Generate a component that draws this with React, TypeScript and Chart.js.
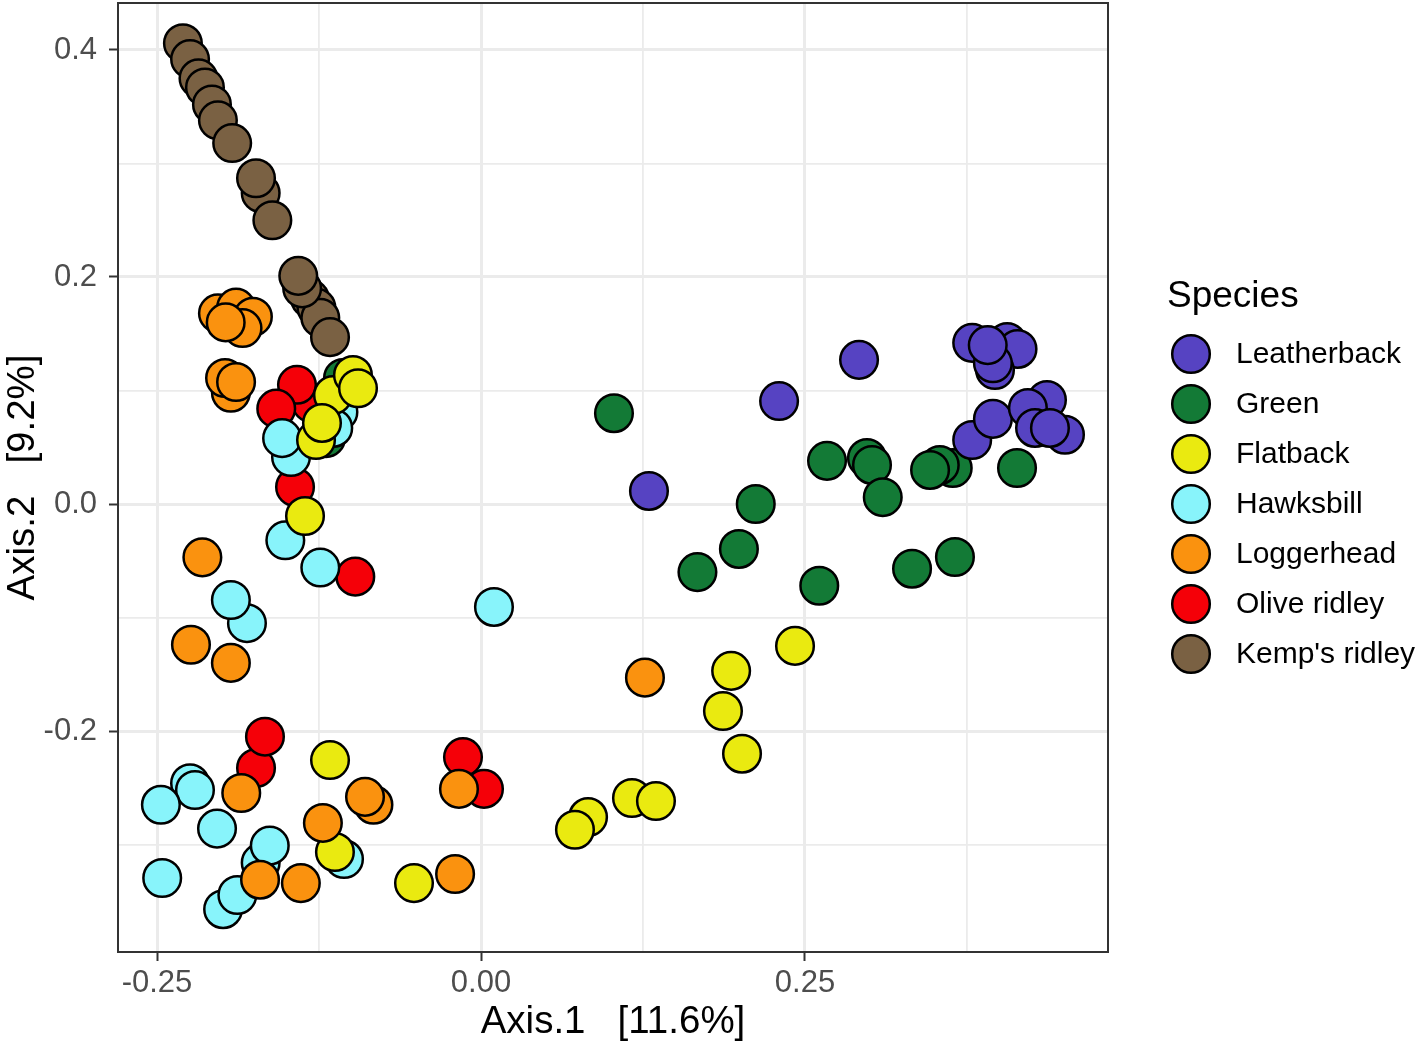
import { useEffect, useRef } from 'react';
import { Chart, registerables } from 'chart.js';

Chart.register(...registerables);

const FONT = '"Liberation Sans", Arial, Helvetica, sans-serif';

// Legend order and colours
const speciesNames = ['Leatherback', 'Green', 'Flatback', 'Hawksbill', 'Loggerhead', 'Olive ridley', "Kemp's ridley"];
const speciesColors = ['#5643C2', '#137A36', '#EAEA10', '#88F4FB', '#FA920F', '#F50008', '#7A6143'];

// PCoA coordinates [Axis.1, Axis.2]
const leatherback: [number, number][] = [
  [0.1296, 0.0115], [0.230, 0.0907], [0.2917, 0.127], [0.379, 0.142], [0.406, 0.1427],
  [0.414, 0.1366], [0.3966, 0.118], [0.395, 0.124], [0.391, 0.140], [0.379, 0.0564],
  [0.395, 0.075], [0.4506, 0.061], [0.4367, 0.0916], [0.422, 0.0846], [0.4275, 0.067], [0.439, 0.067],
];
const green: [number, number][] = [
  [-0.1196, 0.058], [-0.1065, 0.111], [0.1026, 0.080], [0.212, 0.000], [0.199, -0.0396],
  [0.167, -0.060], [0.267, 0.038], [0.261, -0.072], [0.2978, 0.0405], [0.3017, 0.0344],
  [0.310, 0.006], [0.364, 0.0317], [0.354, 0.0344], [0.3465, 0.030], [0.4136, 0.0317],
  [0.3326, -0.057], [0.3657, -0.0467],
];
const flatback: [number, number][] = [
  [-0.1273, 0.0564], [-0.1142, 0.096], [-0.1227, 0.0714], [-0.0988, 0.1137], [-0.0949, 0.102],
  [-0.1358, -0.0106], [-0.1165, -0.2256], [-0.1127, -0.3066], [-0.0517, -0.334], [0.0826, -0.2758],
  [0.0725, -0.287], [0.1165, -0.259], [0.135, -0.2617], [0.193, -0.147], [0.1867, -0.1824],
  [0.2014, -0.220], [0.2423, -0.125],
];
const hawksbill: [number, number][] = [
  [-0.110, 0.081], [-0.114, 0.067], [-0.1466, 0.0414], [-0.1535, 0.058], [-0.151, -0.032],
  [-0.124, -0.056], [-0.1806, -0.105], [-0.193, -0.0846], [0.010, -0.0907], [-0.2245, -0.246],
  [-0.2207, -0.252], [-0.247, -0.265], [-0.2037, -0.286], [-0.170, -0.316], [-0.163, -0.301],
  [-0.1057, -0.3128], [-0.246, -0.3295], [-0.199, -0.357], [-0.188, -0.3445],
];
const loggerhead: [number, number][] = [
  [-0.203, 0.168], [-0.189, 0.173], [-0.176, 0.165], [-0.184, 0.155], [-0.197, 0.160],
  [-0.193, 0.098], [-0.1975, 0.111], [-0.189, 0.1075], [-0.215, -0.047], [-0.2238, -0.124],
  [-0.193, -0.140], [-0.185, -0.2546], [-0.083, -0.265], [-0.0895, -0.258], [-0.122, -0.281],
  [-0.1705, -0.331], [-0.139, -0.334], [-0.017, -0.251], [-0.020, -0.326], [0.1265, -0.153],
];
const oliveRidley: [number, number][] = [
  [-0.131, 0.089], [-0.142, 0.105], [-0.158, 0.084], [-0.1435, 0.015], [-0.097, -0.064],
  [-0.1736, -0.2326], [-0.1667, -0.205], [0.0023, -0.251], [-0.0139, -0.223],
];
const kempsRidley: [number, number][] = [
  [-0.230, 0.406], [-0.2245, 0.392], [-0.218, 0.375], [-0.213, 0.367], [-0.2076, 0.352],
  [-0.203, 0.338], [-0.192, 0.318], [-0.170, 0.274], [-0.1736, 0.287], [-0.161, 0.250],
  [-0.132, 0.181], [-0.127, 0.173], [-0.124, 0.164], [-0.1165, 0.147], [-0.138, 0.190], [-0.141, 0.201],
];

// Axes
const xRange = [-0.2801, 0.4838];
const yRange = [-0.3947, 0.4414];
const xTicks = [-0.25, -0.125, 0, 0.125, 0.25, 0.375];
const xMajorLabels: Record<string, string> = { '-0.25': '-0.25', '0': '0.00', '0.25': '0.25' };
const yTicks = [-0.3, -0.2, -0.1, 0, 0.1, 0.2, 0.3, 0.4];
const yMajorLabels: Record<string, string> = { '-0.2': '-0.2', '0': '0.0', '0.2': '0.2', '0.4': '0.4' };
const xTitle = 'Axis.1   [11.6%]';
const yTitle = 'Axis.2   [9.2%]';
const legendTitle = 'Species';

// painting order, bottom layer first (Chart.js paints dataset 0 last, so this is reversed below)
const paintOrder: [string, [number, number][]][] = [
  ['Green', green], ['Leatherback', leatherback], ["Kemp's ridley", kempsRidley],
  ['Olive ridley', oliveRidley], ['Hawksbill', hawksbill], ['Flatback', flatback], ['Loggerhead', loggerhead],
];

const key = (v: number) => String(Math.round(v * 1000) / 1000);
const colorOf = (name: string) => speciesColors[speciesNames.indexOf(name)];

const framePlugin = {
  id: 'frameAndLegend',
  afterDraw(chart: any) {
    const { ctx, chartArea } = chart;
    ctx.save();
    ctx.strokeStyle = '#333333';
    ctx.lineWidth = 2;
    ctx.strokeRect(chartArea.left, chartArea.top, chartArea.right - chartArea.left, chartArea.bottom - chartArea.top);

    const lx = chartArea.right + 59;
    ctx.fillStyle = '#000';
    ctx.textAlign = 'left';
    ctx.textBaseline = 'middle';
    ctx.font = `37px ${FONT}`;
    ctx.fillText(legendTitle, lx, 297);
    speciesNames.forEach((name, i) => {
      const cy = 354 + i * 50;
      ctx.beginPath();
      ctx.arc(lx + 24, cy, 18.8, 0, Math.PI * 2);
      ctx.fillStyle = speciesColors[i];
      ctx.fill();
      ctx.lineWidth = 2.5;
      ctx.strokeStyle = '#000';
      ctx.stroke();
      ctx.fillStyle = '#000';
      ctx.font = `30px ${FONT}`;
      ctx.fillText(name, lx + 69, cy + 1);
    });
    ctx.restore();
  },
};

export default function App() {
  const ref = useRef<HTMLCanvasElement | null>(null);
  useEffect(() => {
    if (!ref.current) return;
    const chart = new Chart(ref.current, {
      type: 'scatter',
      data: {
        datasets: [...paintOrder].reverse().map(([name, pts]) => ({
          label: name,
          data: pts.map(([x, y]) => ({ x, y })),
          backgroundColor: colorOf(name),
          borderColor: '#000',
          borderWidth: 2.5,
          pointRadius: 18.8,
          pointHoverRadius: 18.8,
        })),
      },
      options: {
        animation: false,
        responsive: false,
        events: [],
        layout: { autoPadding: false, padding: { top: 3, right: 310, left: 0, bottom: 0 } },
        plugins: { legend: { display: false }, tooltip: { enabled: false } },
        scales: {
          x: {
            type: 'linear',
            min: xRange[0],
            max: xRange[1],
            afterBuildTicks: (s: any) => { s.ticks = xTicks.map((v) => ({ value: v })); },
            afterFit: (s: any) => { s.height = 93; s.paddingLeft = 0; s.paddingRight = 0; },
            ticks: {
              autoSkip: false, maxRotation: 0, minRotation: 0, padding: 4,
              color: '#4d4d4d', font: { family: FONT, size: 31 },
              callback: (v: any) => xMajorLabels[key(Number(v))] ?? '',
            },
            grid: {
              color: '#ebebeb',
              lineWidth: (c: any) => (xMajorLabels[key(c.tick?.value ?? 999)] !== undefined ? 3 : 1.8),
              drawTicks: true,
              tickLength: 9,
              tickWidth: 2,
              tickColor: (c: any) => (xMajorLabels[key(c.tick?.value ?? 999)] !== undefined ? '#333333' : 'rgba(0,0,0,0)'),
            },
            border: { display: false },
            title: { display: true, text: xTitle, color: '#000', font: { family: FONT, size: 38.5 }, padding: { top: 0, bottom: 0 } },
          },
          y: {
            type: 'linear',
            min: yRange[0],
            max: yRange[1],
            afterBuildTicks: (s: any) => { s.ticks = yTicks.map((v) => ({ value: v })); },
            afterFit: (s: any) => { s.width = 118; s.paddingTop = 0; s.paddingBottom = 0; },
            ticks: {
              autoSkip: false, padding: 12,
              color: '#4d4d4d', font: { family: FONT, size: 31 },
              callback: (v: any) => yMajorLabels[key(Number(v))] ?? '',
            },
            grid: {
              color: '#ebebeb',
              lineWidth: (c: any) => (yMajorLabels[key(c.tick?.value ?? 999)] !== undefined ? 3 : 1.8),
              drawTicks: true,
              tickLength: 9,
              tickWidth: 2,
              tickColor: (c: any) => (yMajorLabels[key(c.tick?.value ?? 999)] !== undefined ? '#333333' : 'rgba(0,0,0,0)'),
            },
            border: { display: false },
            title: { display: true, text: yTitle, color: '#000', font: { family: FONT, size: 38.5 }, padding: { top: 0, bottom: 0 } },
          },
        },
      },
      plugins: [framePlugin],
    } as any);
    return () => chart.destroy();
  }, []);
  return (
    <canvas
      ref={ref}
      width={1418}
      height={1045}
      style={{ position: 'absolute', left: 0, top: 0, display: 'block' }}
    />
  );
}
